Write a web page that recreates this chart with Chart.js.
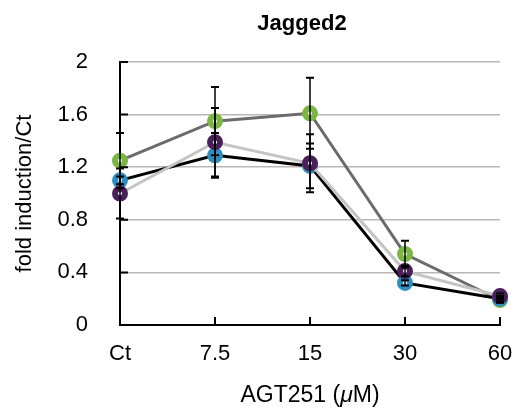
<!DOCTYPE html>
<html>
<head>
<meta charset="utf-8">
<script src="https://cdn.jsdelivr.net/npm/chart.js@4"></script>
<style>
  body { margin: 0; background: #fff; }
</style>
</head>
<body>
<canvas id="chart" width="516" height="416"></canvas>
<script>
const doses = ["Ct", "7.5", "15", "30", "60"];
const yTicks = [0, 0.4, 0.8, 1.2, 1.6, 2];

// three series, each with its own error bars
const purpleVals = [1.00, 1.39, 1.23, 0.41, 0.22];
const purpleErr = [0.19, 0.26, 0.22, 0.04, 0.02];
const blueVals = [1.10, 1.29, 1.21, 0.32, 0.20];
const blueErr = [0.03, 0.17, 0.17, 0.02, 0.02];
const greenVals = [1.25, 1.55, 1.61, 0.54, 0.19];
const greenErr = [0.21, 0.26, 0.27, 0.10, 0.02];

const FONT = "'Liberation Sans', Arial, Helvetica, sans-serif";

function series(vals, err, lineColor, markColor) {
  return {
    data: vals,
    err: err,
    borderColor: lineColor,
    borderWidth: 3,
    pointBackgroundColor: "#ffffff",
    pointBorderColor: markColor,
    pointRadius: 5,
    pointBorderWidth: 6,
    tension: 0,
    fill: false,
  };
}

// error bars, inner ticks, title and x axis title
const extras = {
  id: "extras",
  afterDatasetsDraw(chart) {
    const ctx = chart.ctx;
    const x = chart.scales.x;
    const y = chart.scales.y;
    const area = chart.chartArea;
    ctx.save();
    ctx.strokeStyle = "#000";
    chart.data.datasets.forEach((ds) => {
      ds.data.forEach((v, i) => {
        const px = x.getPixelForValue(i);
        const top = y.getPixelForValue(v + ds.err[i]);
        const bot = y.getPixelForValue(v - ds.err[i]);
        ctx.lineWidth = 1.5;
        ctx.beginPath();
        ctx.moveTo(px, top);
        ctx.lineTo(px, bot);
        ctx.stroke();
        ctx.lineWidth = 2;
        ctx.beginPath();
        ctx.moveTo(px - 4, top);
        ctx.lineTo(px + 4, top);
        ctx.moveTo(px - 4, bot);
        ctx.lineTo(px + 4, bot);
        ctx.stroke();
      });
    });
    // inner ticks
    ctx.lineWidth = 2;
    ctx.beginPath();
    yTicks.forEach((t) => {
      const py = y.getPixelForValue(t);
      ctx.moveTo(area.left, py);
      ctx.lineTo(area.left + 8, py);
    });
    doses.forEach((d, i) => {
      const px = x.getPixelForValue(i);
      ctx.moveTo(px, area.bottom);
      ctx.lineTo(px, area.bottom - 8);
    });
    ctx.stroke();

    // title
    const cx = (area.left + area.right) / 2;
    ctx.fillStyle = "#000";
    ctx.textBaseline = "middle";
    ctx.textAlign = "center";
    ctx.font = "bold 22px " + FONT;
    ctx.fillText("Jagged2", cx - 8, 24);

    // x axis title with italic mu
    const parts = [["AGT251 (", "23px "], ["\u03bc", "italic 23px "], ["M)", "23px "]];
    let total = 0;
    parts.forEach((p) => { ctx.font = p[1] + FONT; total += ctx.measureText(p[0]).width; });
    let sx = cx - total / 2;
    ctx.textAlign = "left";
    parts.forEach((p) => {
      ctx.font = p[1] + FONT;
      ctx.fillText(p[0], sx, 396);
      sx += ctx.measureText(p[0]).width;
    });
    ctx.restore();
  },
};

new Chart(document.getElementById("chart").getContext("2d"), {
  type: "line",
  data: {
    labels: doses,
    datasets: [
      series(purpleVals, purpleErr, "#c4c4c4", "#4a1f5c"),
      series(blueVals, blueErr, "#000000", "#2f8ec0"),
      series(greenVals, greenErr, "#6b6b6b", "#7cb744"),
    ],
  },
  plugins: [extras],
  options: {
    responsive: false,
    animation: false,
    devicePixelRatio: 1,
    layout: { padding: { top: 62, right: 16, left: 0, bottom: 0 } },
    plugins: { legend: { display: false }, tooltip: { enabled: false } },
    scales: {
      x: {
        offset: false,
        grid: { display: false, drawTicks: false },
        border: { color: "#000", width: 2 },
        ticks: { color: "#000", padding: 16, maxRotation: 0, font: { family: FONT, size: 22 } },
        afterFit(scale) {
          scale.height = 91;
          scale.paddingLeft = 0;
          scale.paddingRight = 0;
        },
      },
      y: {
        min: 0,
        max: 2,
        afterBuildTicks(scale) { scale.ticks = yTicks.map((v) => ({ value: v })); },
        grid: { color: "#bdb6b6", lineWidth: 1.5, drawTicks: false },
        border: { color: "#000", width: 2 },
        ticks: {
          color: "#000",
          padding: 32,
          font: { family: FONT, size: 22 },
          callback: (v) => String(v),
        },
        title: {
          display: true,
          text: "fold induction/Ct",
          color: "#000",
          font: { family: FONT, size: 22 },
          padding: { top: 12, bottom: 0 },
        },
        afterFit(scale) { scale.width = 120; },
      },
    },
  },
});
</script>
</body>
</html>
